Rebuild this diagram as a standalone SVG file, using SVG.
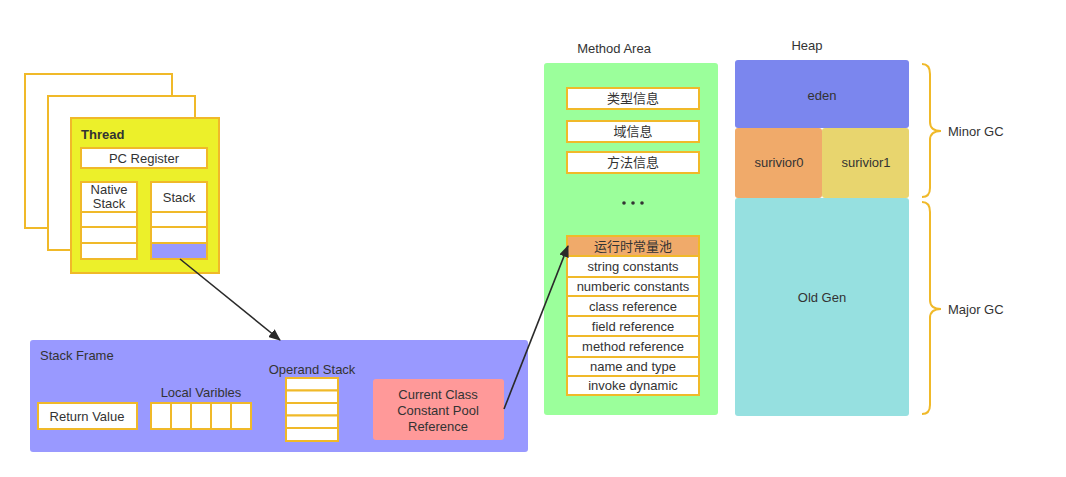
<svg xmlns="http://www.w3.org/2000/svg" width="1066" height="477" viewBox="0 0 1066 477">
<defs>
<style>
text{font-family:"Liberation Sans","Noto Sans CJK SC",Arial,sans-serif;font-size:13px;fill:#333;}
.c{text-anchor:middle;}
.ob{fill:#fff;stroke:#F0B929;stroke-width:2;}
.cell{fill:#fff;stroke:#F0B929;stroke-width:2;}
.conn{stroke:#2a2a2a;stroke-width:1.6;fill:none;}
.brace{stroke:#F0B929;stroke-width:2;fill:none;}
</style>
<marker id="arr" viewBox="0 0 12 10" refX="11" refY="5" markerWidth="12" markerHeight="10" markerUnits="userSpaceOnUse" orient="auto">
<path d="M0,0 L12,5 L0,10 z" fill="#2a2a2a"/>
</marker>
</defs>
<rect width="1066" height="477" fill="#fff"/>

<g id="thread-back2"><rect x="25" y="74" width="147" height="154" class="ob"/></g>
<g id="thread-back1"><rect x="48" y="96" width="147" height="154" class="ob"/></g>
<g id="thread">
<rect x="71" y="118" width="148" height="155" fill="#ECF02A" stroke="#F0B929" stroke-width="2"/>
<text x="81" y="139" style="font-weight:bold">Thread</text>
<rect x="81" y="148" width="126" height="20" class="cell"/>
<text x="144" y="163" class="c">PC Register</text>
<rect x="81" y="182" width="56" height="30" class="cell"/>
<text x="109" y="194" class="c">Native</text>
<text x="109" y="208" class="c">Stack</text>
<rect x="81" y="212" width="56" height="15" class="cell"/>
<rect x="81" y="227" width="56" height="16" class="cell"/>
<rect x="81" y="243" width="56" height="16" class="cell"/>
<rect x="151" y="182" width="56" height="30" class="cell"/>
<text x="179" y="202" class="c">Stack</text>
<rect x="151" y="212" width="56" height="15" class="cell"/>
<rect x="151" y="227" width="56" height="16" class="cell"/>
<rect x="151" y="243" width="56" height="16" fill="#9999FF" stroke="#F0B929" stroke-width="2"/>
</g>

<g id="stack-frame">
<rect x="30" y="340" width="498" height="112" rx="3" fill="#9999FF"/>
<text x="40" y="360">Stack Frame</text>
<rect x="38" y="403" width="99" height="26" class="cell"/>
<text x="87" y="421" class="c">Return Value</text>
<text x="201" y="397" class="c">Local Varibles</text>
<rect x="151" y="403" width="20" height="26" class="cell"/>
<rect x="171" y="403" width="20" height="26" class="cell"/>
<rect x="191" y="403" width="20" height="26" class="cell"/>
<rect x="211" y="403" width="20" height="26" class="cell"/>
<rect x="231" y="403" width="20" height="26" class="cell"/>
<text x="312" y="374" class="c">Operand Stack</text>
<rect x="286" y="378" width="52" height="12.5" class="cell"/>
<rect x="286" y="390.5" width="52" height="12.5" class="cell"/>
<rect x="286" y="403" width="52" height="12.5" class="cell"/>
<rect x="286" y="415.5" width="52" height="12.5" class="cell"/>
<rect x="286" y="428" width="52" height="13" class="cell"/>
<rect x="373" y="379" width="131" height="61" rx="3" fill="#FF9999"/>
<text x="438" y="399" class="c">Current Class</text>
<text x="438" y="415" class="c">Constant Pool</text>
<text x="438" y="431" class="c">Reference</text>
</g>

<g id="method-area">
<text x="614" y="53" class="c">Method Area</text>
<rect x="544" y="63" width="174" height="352" rx="3" fill="#9BFF9B"/>
<rect x="567" y="88" width="132" height="21" class="cell"/>
<text x="633" y="103" class="c">类型信息</text>
<rect x="567" y="121" width="132" height="21" class="cell"/>
<text x="633" y="136" class="c">域信息</text>
<rect x="567" y="152" width="132" height="21" class="cell"/>
<text x="633" y="167" class="c">方法信息</text>
<circle cx="624" cy="203" r="1.8" fill="#333"/>
<circle cx="633" cy="203" r="1.8" fill="#333"/>
<circle cx="642" cy="203" r="1.8" fill="#333"/>
<rect x="567" y="236" width="132" height="20" fill="#F0AA6A" stroke="#F0B929" stroke-width="2"/>
<text x="633" y="251" class="c">运行时常量池</text>
<rect x="567" y="256" width="132" height="21" class="cell"/>
<text x="633" y="271" class="c">string constants</text>
<rect x="567" y="277" width="132" height="19" class="cell"/>
<text x="633" y="291" class="c">numberic constants</text>
<rect x="567" y="296" width="132" height="20" class="cell"/>
<text x="633" y="311" class="c">class reference</text>
<rect x="567" y="316" width="132" height="20" class="cell"/>
<text x="633" y="331" class="c">field reference</text>
<rect x="567" y="336" width="132" height="21" class="cell"/>
<text x="633" y="351" class="c">method reference</text>
<rect x="567" y="357" width="132" height="19" class="cell"/>
<text x="633" y="371" class="c">name and type</text>
<rect x="567" y="376" width="132" height="19" class="cell"/>
<text x="633" y="390" class="c">invoke dynamic</text>
</g>

<g id="heap">
<text x="807" y="50" class="c">Heap</text>
<rect x="735" y="60" width="174" height="68" rx="3" fill="#7B86EE"/>
<text x="822" y="100" class="c">eden</text>
<rect x="735" y="128" width="87" height="70" rx="3" fill="#F0AA6A"/>
<text x="779" y="167" class="c">surivior0</text>
<rect x="822" y="128" width="87" height="70" rx="3" fill="#E8D56E"/>
<text x="866" y="167" class="c">surivior1</text>
<rect x="735" y="198" width="174" height="218" rx="3" fill="#96E0E0"/>
<text x="822" y="302" class="c">Old Gen</text>
</g>

<g id="minor-gc">
<path class="brace" d="M922,64 Q930,64 930,74 L930,122 Q930,131 941,131 Q930,131 930,140 L930,188 Q930,197 922,197"/>
<text x="948" y="136">Minor GC</text>
</g>
<g id="major-gc">
<path class="brace" d="M922,202 Q930,202 930,212 L930,300 Q930,309 941,309 Q930,309 930,318 L930,405 Q930,414 922,414"/>
<text x="948" y="314">Major GC</text>
</g>

<g id="connectors">
<line x1="180" y1="259" x2="280" y2="340" class="conn" marker-end="url(#arr)"/>
<line x1="504" y1="409" x2="568" y2="246" class="conn" marker-end="url(#arr)"/>
</g>
</svg>
